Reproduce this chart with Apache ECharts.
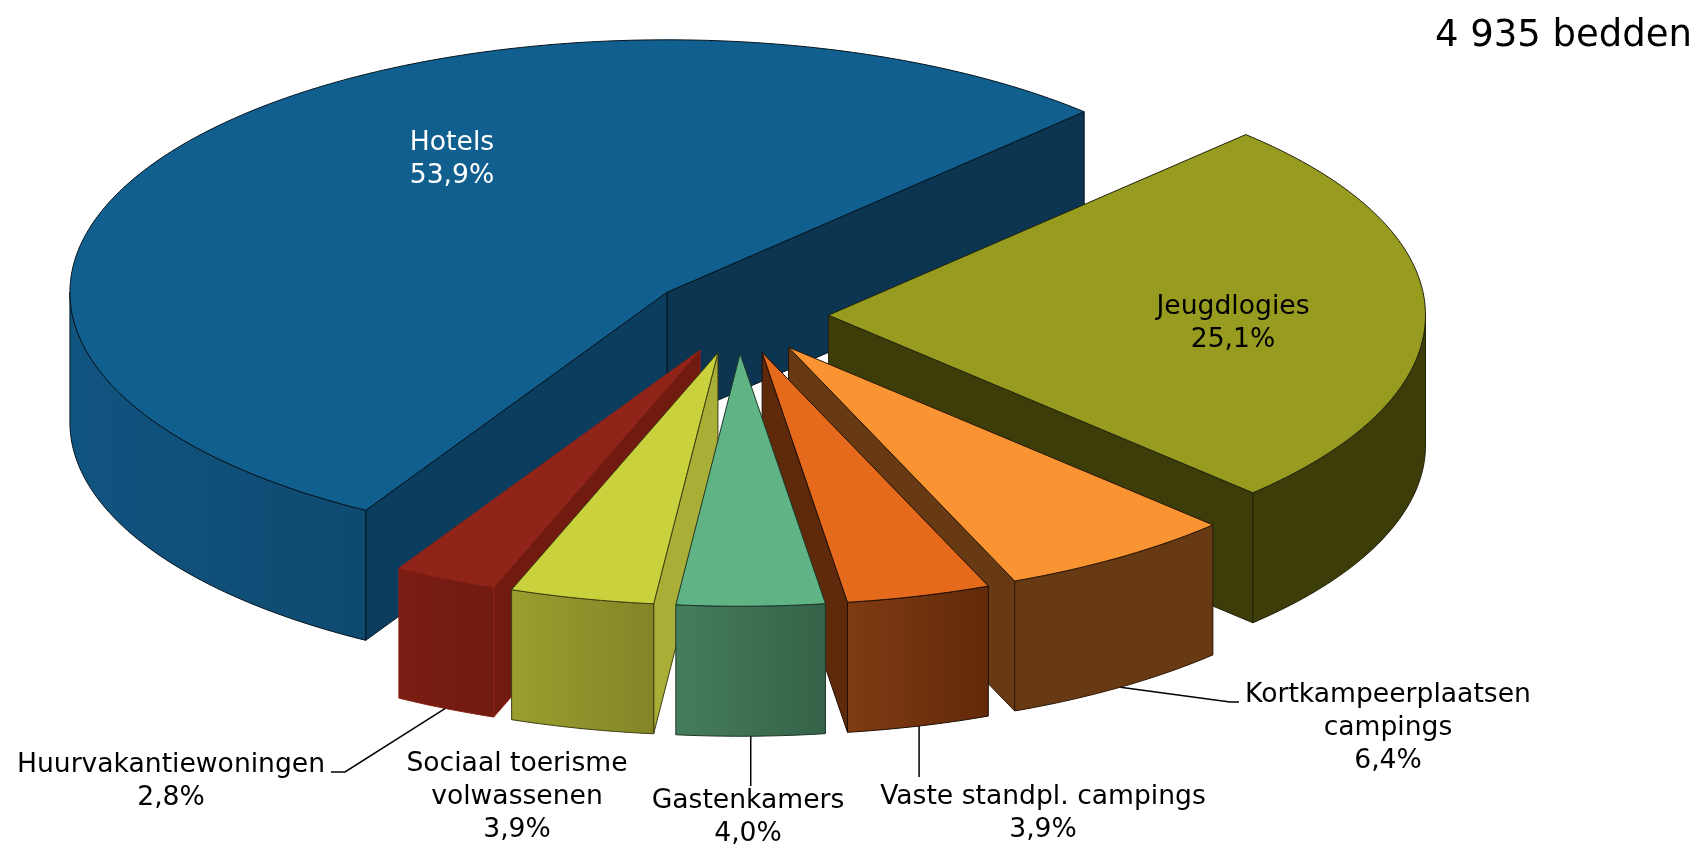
<!DOCTYPE html>
<html>
<head>
<meta charset="utf-8">
<title>4 935 bedden</title>
<script src="https://cdn.jsdelivr.net/npm/echarts@6/dist/echarts.min.js"></script>
<style>
  html, body { margin: 0; padding: 0; background: #fff; }
  #chart { width: 1700px; height: 845px; }
</style>
</head>
<body>
<div id="chart"></div>
<script>
// data
const titleText = '4 935 bedden'
const categories = [
  'Hotels',
  'Jeugdlogies',
  'Kortkampeerplaatsen\ncampings',
  'Vaste standpl. campings',
  'Gastenkamers',
  'Sociaal toerisme\nvolwassenen',
  'Huurvakantiewoningen'
]
const shares = [53.9, 25.1, 6.4, 3.9, 4.0, 3.9, 2.8]

// kleuren per schijf: top, rand links, rand rechts, snijvlak lo, snijvlak hi, lijn
const palette = [
  { top: '#115f8e', rimL: '#105480', rimR: '#0f4a70', lo: '#0b3550', hi: '#0b3e5e', line: '#03141f', text: '#fff' },
  { top: '#979b20', rimL: '#3d3d0a', rimR: '#3d3d0a', lo: '#3d3d0a', hi: '#3d3d0a', line: '#22220a', text: '#000' },
  { top: '#fa9331', rimL: '#683a13', rimR: '#683a13', lo: '#683a13', hi: '#683a13', line: '#2a1808', text: '#000' },
  { top: '#e56a1c', rimL: '#7f3b12', rimR: '#622a0a', lo: '#5f2a0b', hi: '#5f2a0b', line: '#1f0e04', text: '#000' },
  { top: '#60b384', rimL: '#457e5c', rimR: '#356248', lo: '#356248', hi: '#356248', line: '#1d3527', text: '#000' },
  { top: '#c9d23c', rimL: '#9a9e2e', rimR: '#838527', lo: '#a8ae36', hi: '#a8ae36', line: '#3e3f12', text: '#000' },
  { top: '#912418', rimL: '#7b1d13', rimR: '#701a10', lo: '#701a10', hi: '#701a10', line: '#8a2116', text: '#000' }
]

// midden van het labelblok
const labelPos = [
  [452, 160], [1233, 324], [1388, 728], [1043, 814], [748, 818], [517, 797], [171, 782]
]
// knikpunten van de verbindingslijnen (null = geen lijn, x null = recht onder anker)
const leaders = [
  null,
  null,
  [[1230, 702], [1239, 702]],
  [[null, 777]],
  [[null, 786]],
  null,
  [[345, 772], [331, 772]]
]

// geometrie van de taart
const cx = 738.5
const cy = 315.5
const rx = 597
const ry = 252.5
const depth = 130
const explode = 90
const explodeRatioY = 0.425
const startAngle = 239.7

const rad = (d) => d * Math.PI / 180
const total = shares.reduce((a, b) => a + b, 0)

let cursor = startAngle
const slices = shares.map((v) => {
  const hi = cursor
  const lo = cursor - v / total * 360
  cursor = lo
  return { lo, hi, mid: (lo + hi) / 2 }
})

// achteraan eerst tekenen
const drawRank = slices
  .map((s, i) => ({ i, y: Math.sin(rad(s.mid)) }))
  .sort((a, b) => b.y - a.y)
  .reduce((acc, o, rank) => { acc[o.i] = rank; return acc }, {})

const apexOf = (s) => [
  cx + explode * Math.cos(rad(s.mid)),
  cy - explode * explodeRatioY * Math.sin(rad(s.mid))
]
const onEdge = (apex, deg, down = 0) => [
  apex[0] + rx * Math.cos(rad(deg)),
  apex[1] - ry * Math.sin(rad(deg)) + down
]
const arcPoints = (apex, from, to, down = 0) => {
  const steps = Math.max(2, Math.ceil(Math.abs(to - from) / 0.75))
  const pts = []
  for (let k = 0; k <= steps; k++) {
    pts.push(onEdge(apex, from + (to - from) * k / steps, down))
  }
  return pts
}

const renderSlice = (params) => {
  const i = params.dataIndex
  const s = slices[i]
  const c = palette[i]
  const apex = apexOf(s)
  const z = (drawRank[i] + 1) * 10
  const children = []
  const line = { stroke: c.line, lineWidth: 1 }

  const wall = (deg, fill) => {
    const e = onEdge(apex, deg)
    children.push({
      type: 'polygon',
      z2: z,
      shape: { points: [apex, e, [e[0], e[1] + depth], [apex[0], apex[1] + depth]] },
      style: { fill, ...line }
    })
  }
  if (Math.cos(rad(s.lo)) > 0) wall(s.lo, c.lo)
  if (Math.cos(rad(s.hi)) < 0) wall(s.hi, c.hi)

  // voorkant: deel van de boog in de onderste helft
  ;[[-180, 0], [180, 360]].forEach(([a, b]) => {
    const from = Math.max(s.lo, a)
    const to = Math.min(s.hi, b)
    if (to <= from) return
    const topArc = arcPoints(apex, from, to)
    const bottomArc = arcPoints(apex, to, from, depth)
    children.push({
      type: 'polygon',
      z2: z + 1,
      shape: { points: topArc.concat(bottomArc) },
      style: {
        fill: new echarts.graphic.LinearGradient(0, 0, 1, 0, [
          { offset: 0, color: c.rimL },
          { offset: 1, color: c.rimR }
        ]),
        ...line
      }
    })
  })

  children.push({
    type: 'polygon',
    z2: z + 2,
    shape: { points: [apex].concat(arcPoints(apex, s.lo, s.hi)) },
    style: { fill: c.top, ...line }
  })

  // verbindingslijn vanaf de onderrand, midden van de schijf
  if (leaders[i]) {
    const anchor = onEdge(apex, s.mid, depth)
    const pts = [anchor].concat(leaders[i].map((p) => [p[0] === null ? anchor[0] : p[0], p[1]]))
    children.push({
      type: 'polyline',
      z2: 200,
      shape: { points: pts },
      style: { stroke: '#000', lineWidth: 1.5, fill: null }
    })
  }

  children.push({
    type: 'text',
    z2: 300,
    style: {
      x: labelPos[i][0],
      y: labelPos[i][1],
      text: categories[i] + '\n' + shares[i].toFixed(1).replace('.', ',') + '%',
      fill: c.text,
      font: '26.6px "DejaVu Sans"',
      lineHeight: 33,
      align: 'center',
      verticalAlign: 'middle'
    }
  })

  return { type: 'group', children }
}

const chart = echarts.init(document.getElementById('chart'))
chart.setOption({
  animation: false,
  backgroundColor: '#fff',
  title: {
    text: titleText,
    right: 3,
    top: 13,
    textStyle: {
      fontFamily: 'DejaVu Sans',
      fontSize: 37,
      fontWeight: 'normal',
      color: '#000'
    }
  },
  series: [
    {
      type: 'custom',
      coordinateSystem: 'none',
      silent: true,
      data: shares,
      renderItem: renderSlice
    }
  ]
})
</script>
</body>
</html>
